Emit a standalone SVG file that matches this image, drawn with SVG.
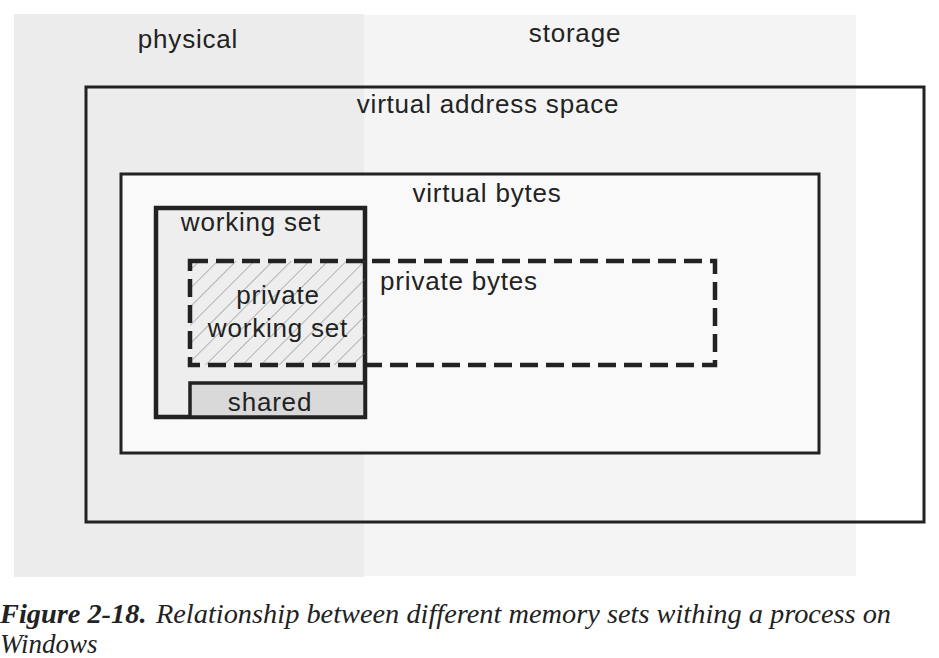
<svg xmlns="http://www.w3.org/2000/svg" width="939" height="658" viewBox="0 0 939 658">
<style>
.lbl{font-family:"Liberation Sans",Arial,sans-serif;font-size:26px;letter-spacing:0.8px;fill:#222;text-anchor:middle}
.box{stroke:#222;stroke-width:3}
.cap{font-family:"Liberation Serif","Times New Roman",serif;font-size:27px;font-style:italic;fill:#222}
</style>
<defs>
<pattern id="hatch" patternUnits="userSpaceOnUse" width="13" height="13" patternTransform="rotate(45)">
<line x1="0" y1="0" x2="0" y2="13" stroke="#7a7a7a" stroke-width="1"/>
</pattern>
</defs>
<rect width="939" height="658" fill="#fff"/>
<g id="physical">
<rect x="14" y="14" width="350" height="563" fill="#ececec"/>
<text class="lbl" x="188" y="48">physical</text>
</g>
<g id="storage">
<rect x="364" y="15" width="492" height="561" fill="#f4f4f4"/>
<text class="lbl" x="575" y="42">storage</text>
</g>
<g id="vas">
<rect class="box" x="86" y="87" width="838" height="435" fill="none"/>
<text class="lbl" x="488" y="113">virtual address space</text>
</g>
<g id="virtual-bytes">
<rect class="box" x="121" y="174" width="698" height="279" fill="#f9f9f9"/>
<text class="lbl" x="487" y="202">virtual bytes</text>
</g>
<g id="working-set">
<rect x="156" y="208" width="209" height="209" fill="#eeeeee" stroke="#222" stroke-width="4.5"/>
<text class="lbl" x="251" y="231">working set</text>
</g>
<g id="shared">
<rect x="190" y="383" width="175" height="34" fill="#d9d9d9" stroke="#222" stroke-width="3.5"/>
<text class="lbl" x="270" y="411">shared</text>
</g>
<g id="private-working-set">
<rect x="190" y="261" width="175" height="104" fill="url(#hatch)"/>
<text class="lbl" x="278" y="304">private</text>
<text class="lbl" x="278" y="337">working set</text>
</g>
<g id="private-bytes">
<rect x="190" y="261" width="525" height="104" fill="none" stroke="#222" stroke-width="4.5" stroke-dasharray="18 8" stroke-linecap="butt"/>
<text class="lbl" x="459" y="290">private bytes</text>
</g>
<g id="caption">
<text class="cap" x="0" y="623" textLength="891" lengthAdjust="spacingAndGlyphs"><tspan font-weight="bold">Figure 2-18.</tspan><tspan dx="9">Relationship between different memory sets withing a process on</tspan></text>
<text class="cap" x="0" y="653">Windows</text>
</g>
</svg>
